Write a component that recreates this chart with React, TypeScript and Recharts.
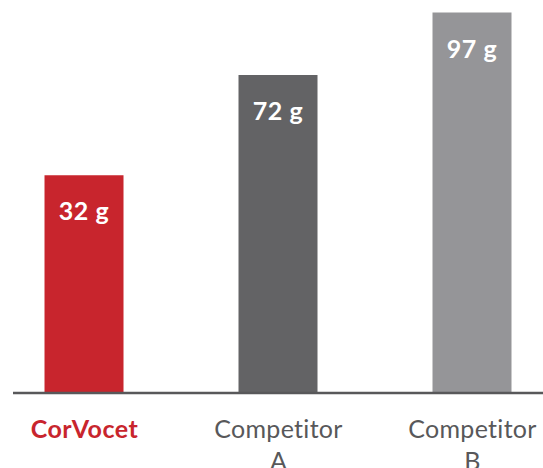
import React from 'react';
import { BarChart, Bar, XAxis, YAxis, Cell, LabelList } from 'recharts';

const categories = ['CorVocet', 'Competitor A', 'Competitor B'];
const values = [32, 72, 97];
const unit = 'g';
const barColors = ['#C8252D', '#636365', '#959598'];
const labelColors = ['#C8252D', '#58585A', '#58585A'];
const labelWeights = [700, 400, 400];
const tickPositions = [0, 1, 2];

// Visual axis floor of the original (non-zero based) value scale
const Y_DOMAIN: [number, number] = [-55, 102];
const X_DOMAIN: [number, number] = [-0.3686, 2.3634];

const data = categories.map((name, i) => ({ pos: tickPositions[i], name, value: values[i] }));

const FONT = 'Lato, "Open Sans", sans-serif';

const CategoryTick = (props: any) => {
  const { x, y, payload } = props;
  const idx = tickPositions.indexOf(payload.value);
  const name = categories[idx] ?? '';
  const lines = idx === 0 ? [name] : name.split(' ');
  return (
    <text
      x={x}
      y={y}
      textAnchor="middle"
      fontFamily={FONT}
      fontSize={25}
      fontWeight={labelWeights[idx]}
      fill={labelColors[idx]}
      letterSpacing={idx === 0 ? 0.5 : 0.3}
    >
      {lines.map((l, k) => (
        <tspan key={k} x={x} dy={k === 0 ? 44.5 : 32}>
          {l}
        </tspan>
      ))}
    </text>
  );
};

const ValueLabel = (props: any) => {
  const { x, y, width, value } = props;
  return (
    <text
      x={x + width / 2}
      y={y + 35}
      textAnchor="middle"
      dominantBaseline="central"
      fontFamily={FONT}
      fontSize={25}
      fontWeight={700}
      letterSpacing={0.6}
      fill="#FFFFFF"
    >
      {`${value} ${unit}`}
    </text>
  );
};

export default function App() {
  return (
    <div style={{ position: 'absolute', left: 0, top: 0, width: 543, height: 468, background: '#fff' }}>
      <BarChart
        width={543}
        height={468}
        data={data}
        margin={{ top: 0, right: 0, bottom: 0, left: 13 }}
      >
        <XAxis
          dataKey="pos"
          type="number"
          domain={X_DOMAIN}
          ticks={tickPositions}
          interval={0}
          height={75}
          tickSize={0}
          tickMargin={0}
          tickLine={false}
          axisLine={{ stroke: '#58585A', strokeWidth: 2.5 }}
          tick={<CategoryTick />}
        />
        <YAxis hide type="number" domain={Y_DOMAIN} allowDataOverflow />
        <Bar
          dataKey={(d: any) => [Y_DOMAIN[0], d.value]}
          barSize={79}
          isAnimationActive={false}
        >
          {data.map((d, i) => (
            <Cell key={d.name} fill={barColors[i]} />
          ))}
          <LabelList dataKey="value" content={<ValueLabel />} />
        </Bar>
      </BarChart>
    </div>
  );
}
